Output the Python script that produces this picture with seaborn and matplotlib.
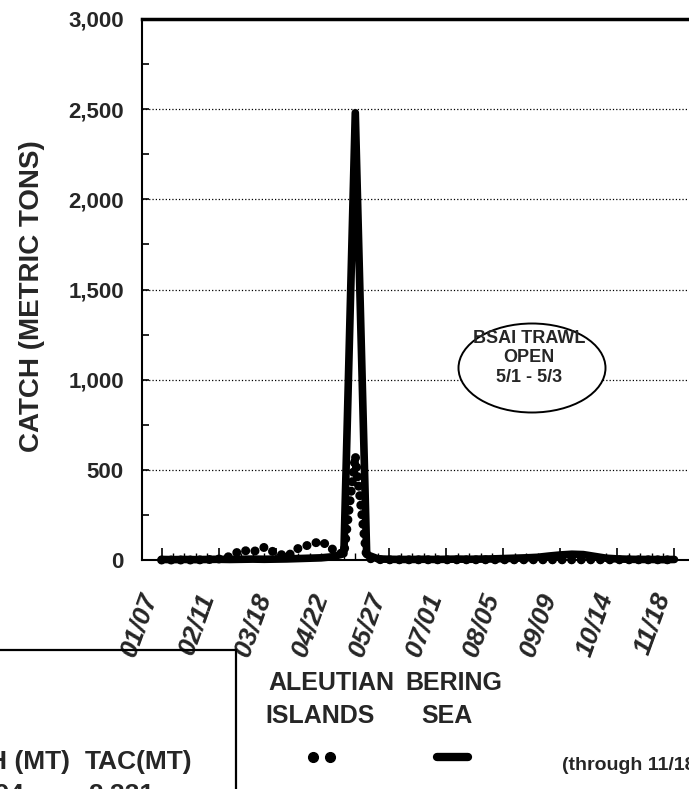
import pandas as pd
import numpy as np
import matplotlib.pyplot as plt
import seaborn as sns
from matplotlib.patches import Ellipse, Rectangle
from matplotlib.lines import Line2D

# weekly catch, week ending dates 01/07 - 11/18
week_dates = pd.date_range('1995-01-07', periods=46, freq='7D')
bering_sea = [3, 2, 3, 2, 3, 4, 3, 4, 5, 4, 5, 6, 8, 10, 12, 18, 35, 2480, 30, 6,
              4, 3, 3, 4, 3, 4, 5, 4, 5, 6, 8, 10, 12, 15, 22, 28, 32, 30, 20, 10,
              6, 4, 3, 3, 2, 3]
aleutian_islands = [0, 0, 0, 0, 2, 5, 20, 55, 45, 70, 40, 20, 65, 85, 105, 60, 30, 580, 10, 2,
                    1, 1, 1, 1, 1, 1, 1, 1, 1, 1, 1, 1, 1, 1, 1, 1, 1, 1, 1, 1,
                    1, 1, 1, 1, 1, 1]

label_dates = pd.to_datetime(['1995-01-07', '1995-02-11', '1995-03-18', '1995-04-22', '1995-05-27',
                              '1995-07-01', '1995-08-05', '1995-09-09', '1995-10-14', '1995-11-18'])
tick_labels = ['01/07', '02/11', '03/18', '04/22', '05/27', '07/01', '08/05', '09/09', '10/14', '11/18']
y_ticks = [0, 500, 1000, 1500, 2000, 2500, 3000]

sns.set_style('white')
plt.rcParams['font.family'] = ['Liberation Sans', 'DejaVu Sans']
plt.rcParams['font.weight'] = 'bold'

W, H = 689, 789
fig = plt.figure(figsize=(W / 100, H / 100), dpi=100)
ax = fig.add_axes([142 / W, 1 - 560 / H, (720 - 142) / W, (560 - 19) / H])

df = pd.DataFrame({'week': week_dates, 'bering': bering_sea, 'aleutian': aleutian_islands})

sns.lineplot(data=df, x='week', y='bering', ax=ax, color='black', lw=5.5,
             solid_joinstyle='round', solid_capstyle='round', clip_on=False, zorder=3)
sns.lineplot(data=df, x='week', y='aleutian', ax=ax, color='black', lw=6.5,
             linestyle=(0, (0.01, 1.05)), dash_capstyle='round', clip_on=False, zorder=4)

ax.set_xlim(pd.Timestamp('1994-12-26'), pd.Timestamp('1995-12-16'))
ax.set_ylim(0, 3000)

ax.set_xticks(label_dates)
ax.set_xticklabels(tick_labels, rotation=70, ha='right', fontstyle='italic',
                   fontweight='bold', fontsize=19)
ax.set_xticks(week_dates, minor=True)
ax.set_yticks(y_ticks)
ax.set_yticklabels([f'{v:,}' for v in y_ticks], fontsize=16, fontweight='bold')
ax.set_yticks(np.arange(0, 3001, 250), minor=True)

ax.tick_params(axis='x', which='major', direction='in', length=9, width=1.2, pad=21, color='black')
ax.tick_params(axis='x', which='minor', direction='in', length=5, width=1.0, color='black')
ax.tick_params(axis='y', which='major', direction='in', length=5, width=1.2, pad=13, color='black')
ax.tick_params(axis='y', which='minor', direction='in', length=5, width=1.2, color='black')
ax.tick_params(bottom=True, left=True, which='both')

ax.grid(axis='y', which='major', linestyle=':', color='black', lw=0.9)
ax.set_xlabel('')
ax.set_ylabel('')

for side in ['left', 'bottom', 'top', 'right']:
    ax.spines[side].set_color('black')
ax.spines['left'].set_linewidth(1.5)
ax.spines['bottom'].set_linewidth(1.5)
ax.spines['top'].set_linewidth(2.5)
ax.spines['right'].set_visible(False)

fig.text(32 / W, 1 - 296 / H, 'CATCH (METRIC TONS)', rotation=90, ha='center', va='center',
         fontsize=20, fontweight='bold')

# BSAI trawl note
ell = Ellipse((532 / W, 1 - 368 / H), 147 / W, 89 / H, transform=fig.transFigure,
              facecolor='white', edgecolor='black', lw=1.4, zorder=5)
fig.add_artist(ell)
fig.text(529 / W, 1 - 358 / H, 'BSAI TRAWL\nOPEN\n5/1 - 5/3', ha='center', va='center',
         fontsize=13, fontweight='bold', linespacing=1.2, zorder=6)

# legend under the axis
fig.text(331 / W, 1 - 683 / H, 'ALEUTIAN', ha='center', va='center', fontsize=18, fontweight='bold')
fig.text(454 / W, 1 - 683 / H, 'BERING', ha='center', va='center', fontsize=18, fontweight='bold')
fig.text(320 / W, 1 - 716 / H, 'ISLANDS', ha='center', va='center', fontsize=18, fontweight='bold')
fig.text(447 / W, 1 - 716 / H, 'SEA', ha='center', va='center', fontsize=18, fontweight='bold')
fig.add_artist(Line2D([313 / W, 330 / W], [1 - 757 / H, 1 - 757 / H], transform=fig.transFigure,
                      marker='o', markersize=7, linestyle='none', color='black'))
fig.add_artist(Line2D([437 / W, 468 / W], [1 - 757 / H, 1 - 757 / H], transform=fig.transFigure,
                      lw=6, solid_capstyle='round', color='black'))

# catch / TAC box (cut at the page edge)
box = Rectangle((-10 / W, -0.05), (236 + 10) / W, 1 - 650 / H + 0.05, transform=fig.transFigure,
                fill=False, edgecolor='black', lw=1.6)
fig.add_artist(box)
fig.text(70 / W, 1 - 762 / H, 'CATCH (MT)', ha='right', va='center', fontsize=19, fontweight='bold')
fig.text(85 / W, 1 - 762 / H, 'TAC(MT)', ha='left', va='center', fontsize=19, fontweight='bold')
fig.text(24 / W, 1 - 795 / H, '1,094', ha='right', va='center', fontsize=19, fontweight='bold')
fig.text(88 / W, 1 - 795 / H, '2,331', ha='left', va='center', fontsize=19, fontweight='bold')

fig.text(562 / W, 1 - 766 / H, '(through 11/18)', ha='left', va='center', fontsize=14, fontweight='bold')

fig.savefig('out.png', dpi=100)
